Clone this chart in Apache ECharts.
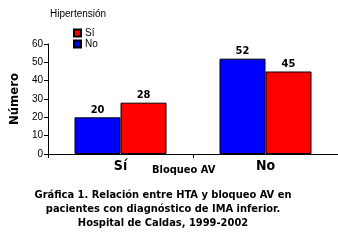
<!DOCTYPE html>
<html>
<head>
<meta charset="utf-8">
<script src="https://cdn.jsdelivr.net/npm/echarts@6/dist/echarts.min.js"></script>
<style>
    html, body { margin: 0; padding: 0; background: #fff; }
    #main { width: 338px; height: 245px; }
</style>
</head>
<body>
<div id="main"></div>
<script>
    var categories = ['Sí', 'No'];
    var legendOrder = ['Sí', 'No'];
    var noValues = [20, 52];
    var siValues = [28, 45];
    var yTicks = [0, 10, 20, 30, 40, 50, 60];

    var chart = echarts.init(document.getElementById('main'));
    var narrow = '"DejaVu Sans Condensed", "Liberation Sans", sans-serif';

    var barLabel = {
        show: true,
        position: 'top',
        distance: 2,
        color: '#000',
        fontWeight: 'bold',
        fontSize: 11,
        fontFamily: narrow
    };

    var option = {
        animation: false,
        backgroundColor: '#fff',
        grid: {
            left: 38,
            top: 44,
            width: 320,
            height: 110
        },
        legend: {
            data: legendOrder,
            orient: 'vertical',
            left: 73,
            top: 28,
            padding: 0,
            itemWidth: 7,
            itemHeight: 7,
            itemGap: 1,
            icon: 'rect',
            textStyle: { fontSize: 10, color: '#000', fontFamily: 'Liberation Sans, sans-serif', padding: [0, 0, 0, -1] }
        },
        xAxis: {
            type: 'category',
            data: categories,
            axisLine: { lineStyle: { color: '#000', width: 1 } },
            axisTick: { show: true, length: 4, lineStyle: { color: '#000' } },
            axisLabel: {
                color: '#000',
                fontWeight: 'bold',
                fontSize: 14,
                fontFamily: narrow,
                margin: 5
            }
        },
        yAxis: {
            type: 'value',
            min: yTicks[0],
            max: yTicks[yTicks.length - 1],
            interval: 10,
            name: 'Número',
            nameLocation: 'middle',
            nameGap: 23,
            nameTextStyle: { color: '#000', fontWeight: 'bold', fontSize: 13, fontFamily: narrow },
            splitLine: { show: false },
            axisLine: { show: true, lineStyle: { color: '#000', width: 1 } },
            axisTick: { show: true, length: 4, lineStyle: { color: '#000' } },
            axisLabel: { color: '#000', fontSize: 10, fontFamily: 'Liberation Sans, sans-serif', margin: 5 }
        },
        graphic: [
            {
                type: 'text', left: 50, top: 9,
                style: { text: 'Hipertensión', fontSize: 10, fill: '#000', fontFamily: 'Liberation Sans, sans-serif' }
            },
            {
                type: 'text', left: 152, top: 165,
                style: { text: 'Bloqueo AV', fontSize: 11, fontWeight: 'bold', fill: '#000', fontFamily: narrow }
            },
            {
                type: 'text', x: 163, y: 188,
                style: {
                    text: 'Gráfica 1. Relación entre HTA y bloqueo AV en\npacientes con diagnóstico de IMA inferior.\nHospital de Caldas, 1999-2002',
                    align: 'center',
                    verticalAlign: 'top',
                    fontSize: 11,
                    lineHeight: 14,
                    fontWeight: 'bold',
                    fill: '#000',
                    fontFamily: narrow
                }
            }
        ],
        series: [
            {
                name: 'No',
                type: 'bar',
                data: noValues,
                barWidth: 46,
                barGap: '0%',
                itemStyle: { color: '#0000ff', borderColor: '#000', borderWidth: 1 },
                label: barLabel
            },
            {
                name: 'Sí',
                type: 'bar',
                data: siValues,
                barWidth: 46,
                barGap: '0%',
                itemStyle: { color: '#ff0000', borderColor: '#000', borderWidth: 1 },
                label: barLabel
            }
        ]
    };
    chart.setOption(option);
</script>
</body>
</html>
